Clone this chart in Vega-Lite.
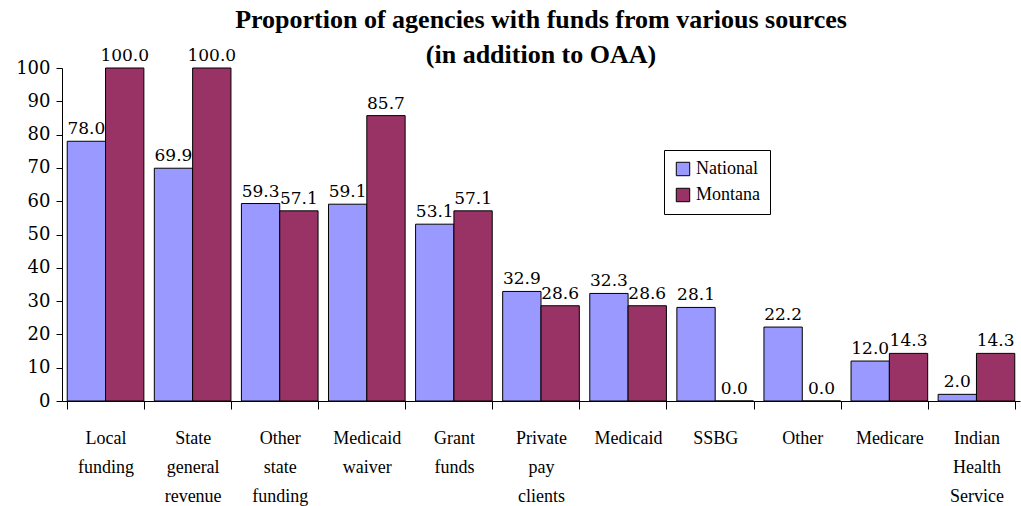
{
  "$schema": "https://vega.github.io/schema/vega-lite/v6.json",
  "width": 958,
  "height": 333,
  "autosize": {"type": "none"},
  "padding": {"left": 62, "top": 68, "right": 1, "bottom": 105},
  "background": "white",
  "config": {
    "font": "Liberation Serif",
    "view": {"stroke": null},
    "axis": {"grid": false, "domainColor": "black", "tickColor": "black", "labelColor": "black", "labelFont": "Liberation Serif", "labelFontSize": 18, "titleFontSize": 18}
  },
  "title": {
    "text": ["Proportion of agencies with funds from various sources", "(in addition to OAA)"],
    "font": "Liberation Serif",
    "fontSize": 26,
    "fontWeight": "bold",
    "lineHeight": 35,
    "anchor": "middle",
    "baseline": "alphabetic",
    "offset": -42,
    "color": "black"
  },
  "data": {
    "values": [
      {"source": "Local|funding", "series": "National", "value": 78.0},
      {"source": "Local|funding", "series": "Montana", "value": 100.0},
      {"source": "State|general|revenue", "series": "National", "value": 69.9},
      {"source": "State|general|revenue", "series": "Montana", "value": 100.0},
      {"source": "Other|state|funding", "series": "National", "value": 59.3},
      {"source": "Other|state|funding", "series": "Montana", "value": 57.1},
      {"source": "Medicaid|waiver", "series": "National", "value": 59.1},
      {"source": "Medicaid|waiver", "series": "Montana", "value": 85.7},
      {"source": "Grant|funds", "series": "National", "value": 53.1},
      {"source": "Grant|funds", "series": "Montana", "value": 57.1},
      {"source": "Private|pay|clients", "series": "National", "value": 32.9},
      {"source": "Private|pay|clients", "series": "Montana", "value": 28.6},
      {"source": "Medicaid", "series": "National", "value": 32.3},
      {"source": "Medicaid", "series": "Montana", "value": 28.6},
      {"source": "SSBG", "series": "National", "value": 28.1},
      {"source": "SSBG", "series": "Montana", "value": 0.0},
      {"source": "Other", "series": "National", "value": 22.2},
      {"source": "Other", "series": "Montana", "value": 0.0},
      {"source": "Medicare", "series": "National", "value": 12.0},
      {"source": "Medicare", "series": "Montana", "value": 14.3},
      {"source": "Indian|Health|Service", "series": "National", "value": 2.0},
      {"source": "Indian|Health|Service", "series": "Montana", "value": 14.3}
    ]
  },
  "encoding": {
    "x": {
      "field": "source",
      "type": "nominal",
      "sort": null,
      "scale": {"paddingInner": 0.12, "paddingOuter": 0.06},
      "axis": {
        "title": null,
        "labelAngle": 0,
        "labelExpr": "split(datum.label, '|')",
        "labelLineHeight": 29,
        "labelPadding": 20,
        "labelBaseline": "top",
        "tickBand": "extent",
        "tickSize": 8,
        "domainColor": "black"
      }
    },
    "xOffset": {"field": "series", "type": "nominal", "sort": ["National", "Montana"]},
    "y": {
      "field": "value",
      "type": "quantitative",
      "scale": {"domain": [0, 100], "nice": false},
      "axis": {"title": null, "values": [0,10,20,30,40,50,60,70,80,90,100], "tickSize": 6, "labelPadding": 6, "labelFont": "DejaVu Serif", "labelFontSize": 18}
    }
  },
  "layer": [
    {
      "mark": {"type": "bar", "stroke": "black", "strokeWidth": 1},
      "encoding": {
        "color": {
          "field": "series",
          "type": "nominal",
          "scale": {"domain": ["National", "Montana"], "range": ["#9999FF", "#993366"]},
          "legend": {
            "title": null,
            "orient": "none",
            "legendX": 602,
            "legendY": 82,
            "strokeColor": "black",
            "fillColor": "white",
            "padding": 10,
            "symbolType": "square",
            "symbolSize": 180,
            "symbolStrokeColor": "black",
            "symbolStrokeWidth": 1,
            "labelFont": "Liberation Serif",
            "labelFontSize": 18,
            "labelColor": "black",
            "rowPadding": 8
          }
        }
      }
    },
    {
      "mark": {"type": "text", "baseline": "alphabetic", "dy": -7, "fontSize": 17, "font": "DejaVu Serif", "color": "black"},
      "encoding": {
        "text": {"field": "value", "type": "quantitative", "format": ".1f"}
      }
    }
  ]
}
